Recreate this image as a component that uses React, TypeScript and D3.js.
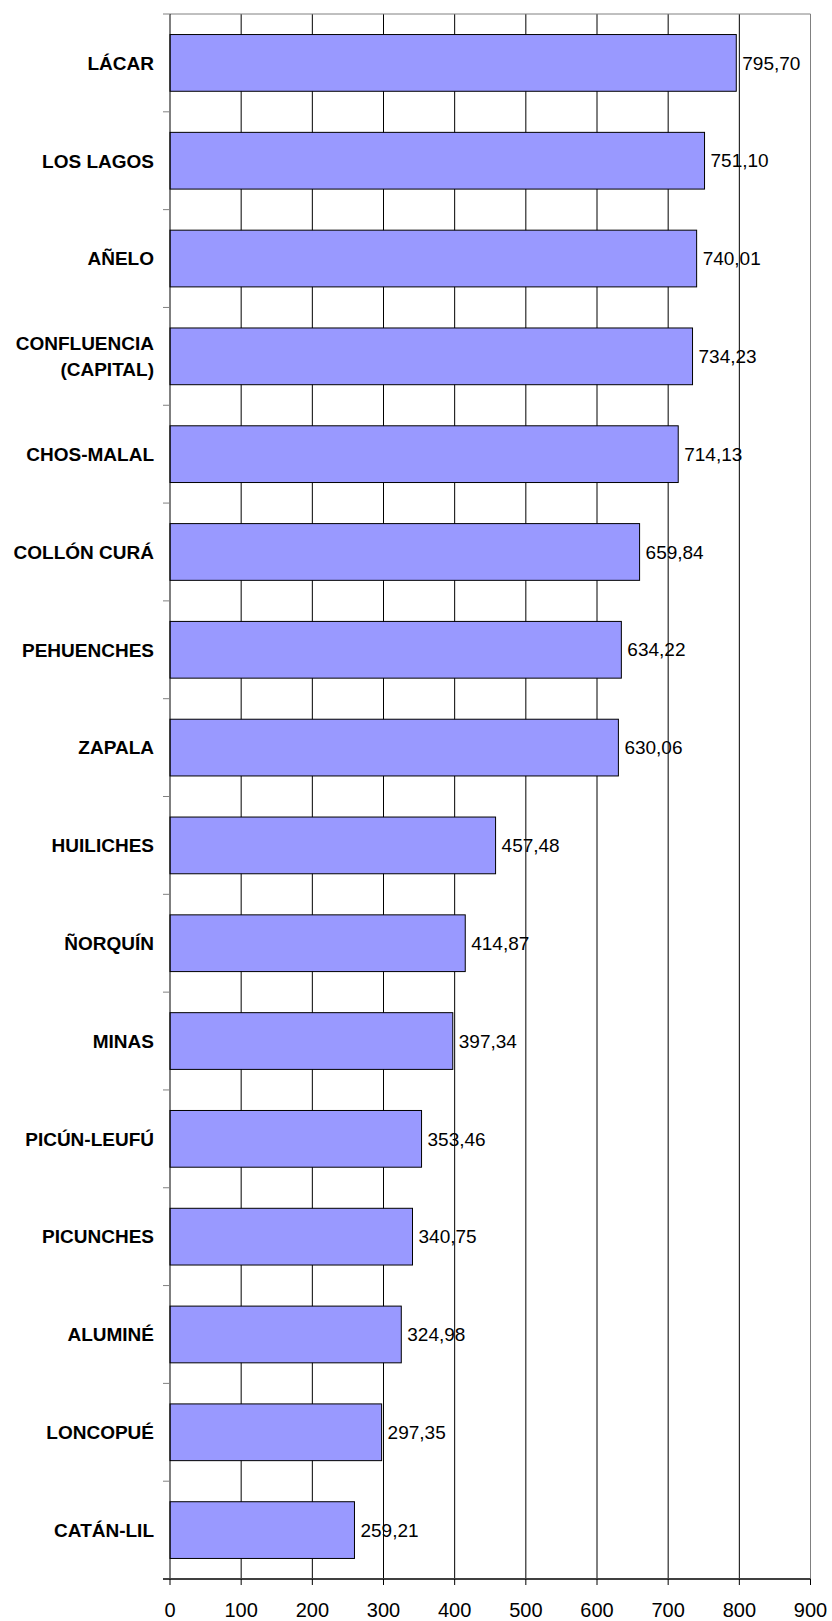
import { useEffect } from 'react'
import * as d3 from 'd3'

const departamentos = [
  'LÁCAR',
  'LOS LAGOS',
  'AÑELO',
  'CONFLUENCIA\n(CAPITAL)',
  'CHOS-MALAL',
  'COLLÓN CURÁ',
  'PEHUENCHES',
  'ZAPALA',
  'HUILICHES',
  'ÑORQUÍN',
  'MINAS',
  'PICÚN-LEUFÚ',
  'PICUNCHES',
  'ALUMINÉ',
  'LONCOPUÉ',
  'CATÁN-LIL',
]

const valores = [
  795.7, 751.1, 740.01, 734.23, 714.13, 659.84, 634.22, 630.06, 457.48, 414.87, 397.34, 353.46,
  340.75, 324.98, 297.35, 259.21,
]

const xTicks = [0, 100, 200, 300, 400, 500, 600, 700, 800, 900]

const W = 832
const H = 1621
const left = 170
const right = 810.5
const top = 14
const bottom = 1579

const fmt = d3.formatLocale({ decimal: ',', thousands: '.', grouping: [3], currency: ['', ''] }).format('.2f')

export default function App() {
  useEffect(() => {
    document.body.style.margin = '0'
  }, [])

  const x = d3.scaleLinear().domain([0, 900]).range([left, right])
  const y = d3
    .scaleBand<string>()
    .domain(departamentos)
    .range([top, bottom])
    .paddingInner(0.42)
    .paddingOuter(0.21)
  const step = y.step()
  const font = 'Arial, "Liberation Sans", Helvetica, sans-serif'

  return (
    <svg width={W} height={H} style={{ display: 'block', background: '#fff' }} fontFamily={font}>
      {/* vertical gridlines */}
      {xTicks.slice(1, -1).map((t) => (
        <line key={t} x1={x(t)} x2={x(t)} y1={top} y2={bottom} stroke="#000" strokeWidth={1} />
      ))}
      {/* plot frame: top and right in gray */}
      <line x1={left} x2={right} y1={top} y2={top} stroke="#808080" strokeWidth={1} />
      <line x1={right} x2={right} y1={top} y2={bottom} stroke="#808080" strokeWidth={1} />

      {/* bars */}
      {departamentos.map((d, i) => (
        <rect
          key={d}
          x={x(0)}
          y={y(d)!}
          width={x(valores[i]) - x(0)}
          height={y.bandwidth()}
          fill="#9999FF"
          stroke="#000"
          strokeWidth={1}
        />
      ))}

      {/* value labels */}
      {departamentos.map((d, i) => (
        <text
          key={d}
          x={x(valores[i]) + 6}
          y={y(d)! + y.bandwidth() / 2 + 6.7}
          fontSize={19}
          fill="#000"
        >
          {fmt(valores[i])}
        </text>
      ))}

      {/* left axis */}
      <line x1={left} x2={left} y1={top} y2={bottom} stroke="#000" strokeWidth={1} />
      {d3.range(1, departamentos.length).map((k) => (
        <line key={k} x1={left - 7} x2={left} y1={top + k * step} y2={top + k * step} stroke="#808080" strokeWidth={1} />
      ))}
      <line x1={left - 7} x2={left} y1={top} y2={top} stroke="#808080" strokeWidth={1} />

      {/* category labels */}
      {departamentos.map((d) => {
        const lines = d.split('\n')
        const cy = y(d)! + y.bandwidth() / 2
        const lh = 26
        return (
          <text key={d} textAnchor="end" fontSize={19} fontWeight="bold" fill="#000">
            {lines.map((l, j) => (
              <tspan key={j} x={left - 16} y={cy + (j - (lines.length - 1) / 2) * lh + 6.8}>
                {l}
              </tspan>
            ))}
          </text>
        )
      })}

      {/* bottom axis */}
      <line x1={left - 7} x2={right} y1={bottom} y2={bottom} stroke="#404040" strokeWidth={2} />
      {xTicks.map((t) => (
        <g key={t}>
          <line x1={x(t)} x2={x(t)} y1={bottom} y2={bottom + 6} stroke="#000" strokeWidth={1} />
          <text x={x(t)} y={1617} textAnchor="middle" fontSize={20} fill="#000">
            {t}
          </text>
        </g>
      ))}
    </svg>
  )
}
